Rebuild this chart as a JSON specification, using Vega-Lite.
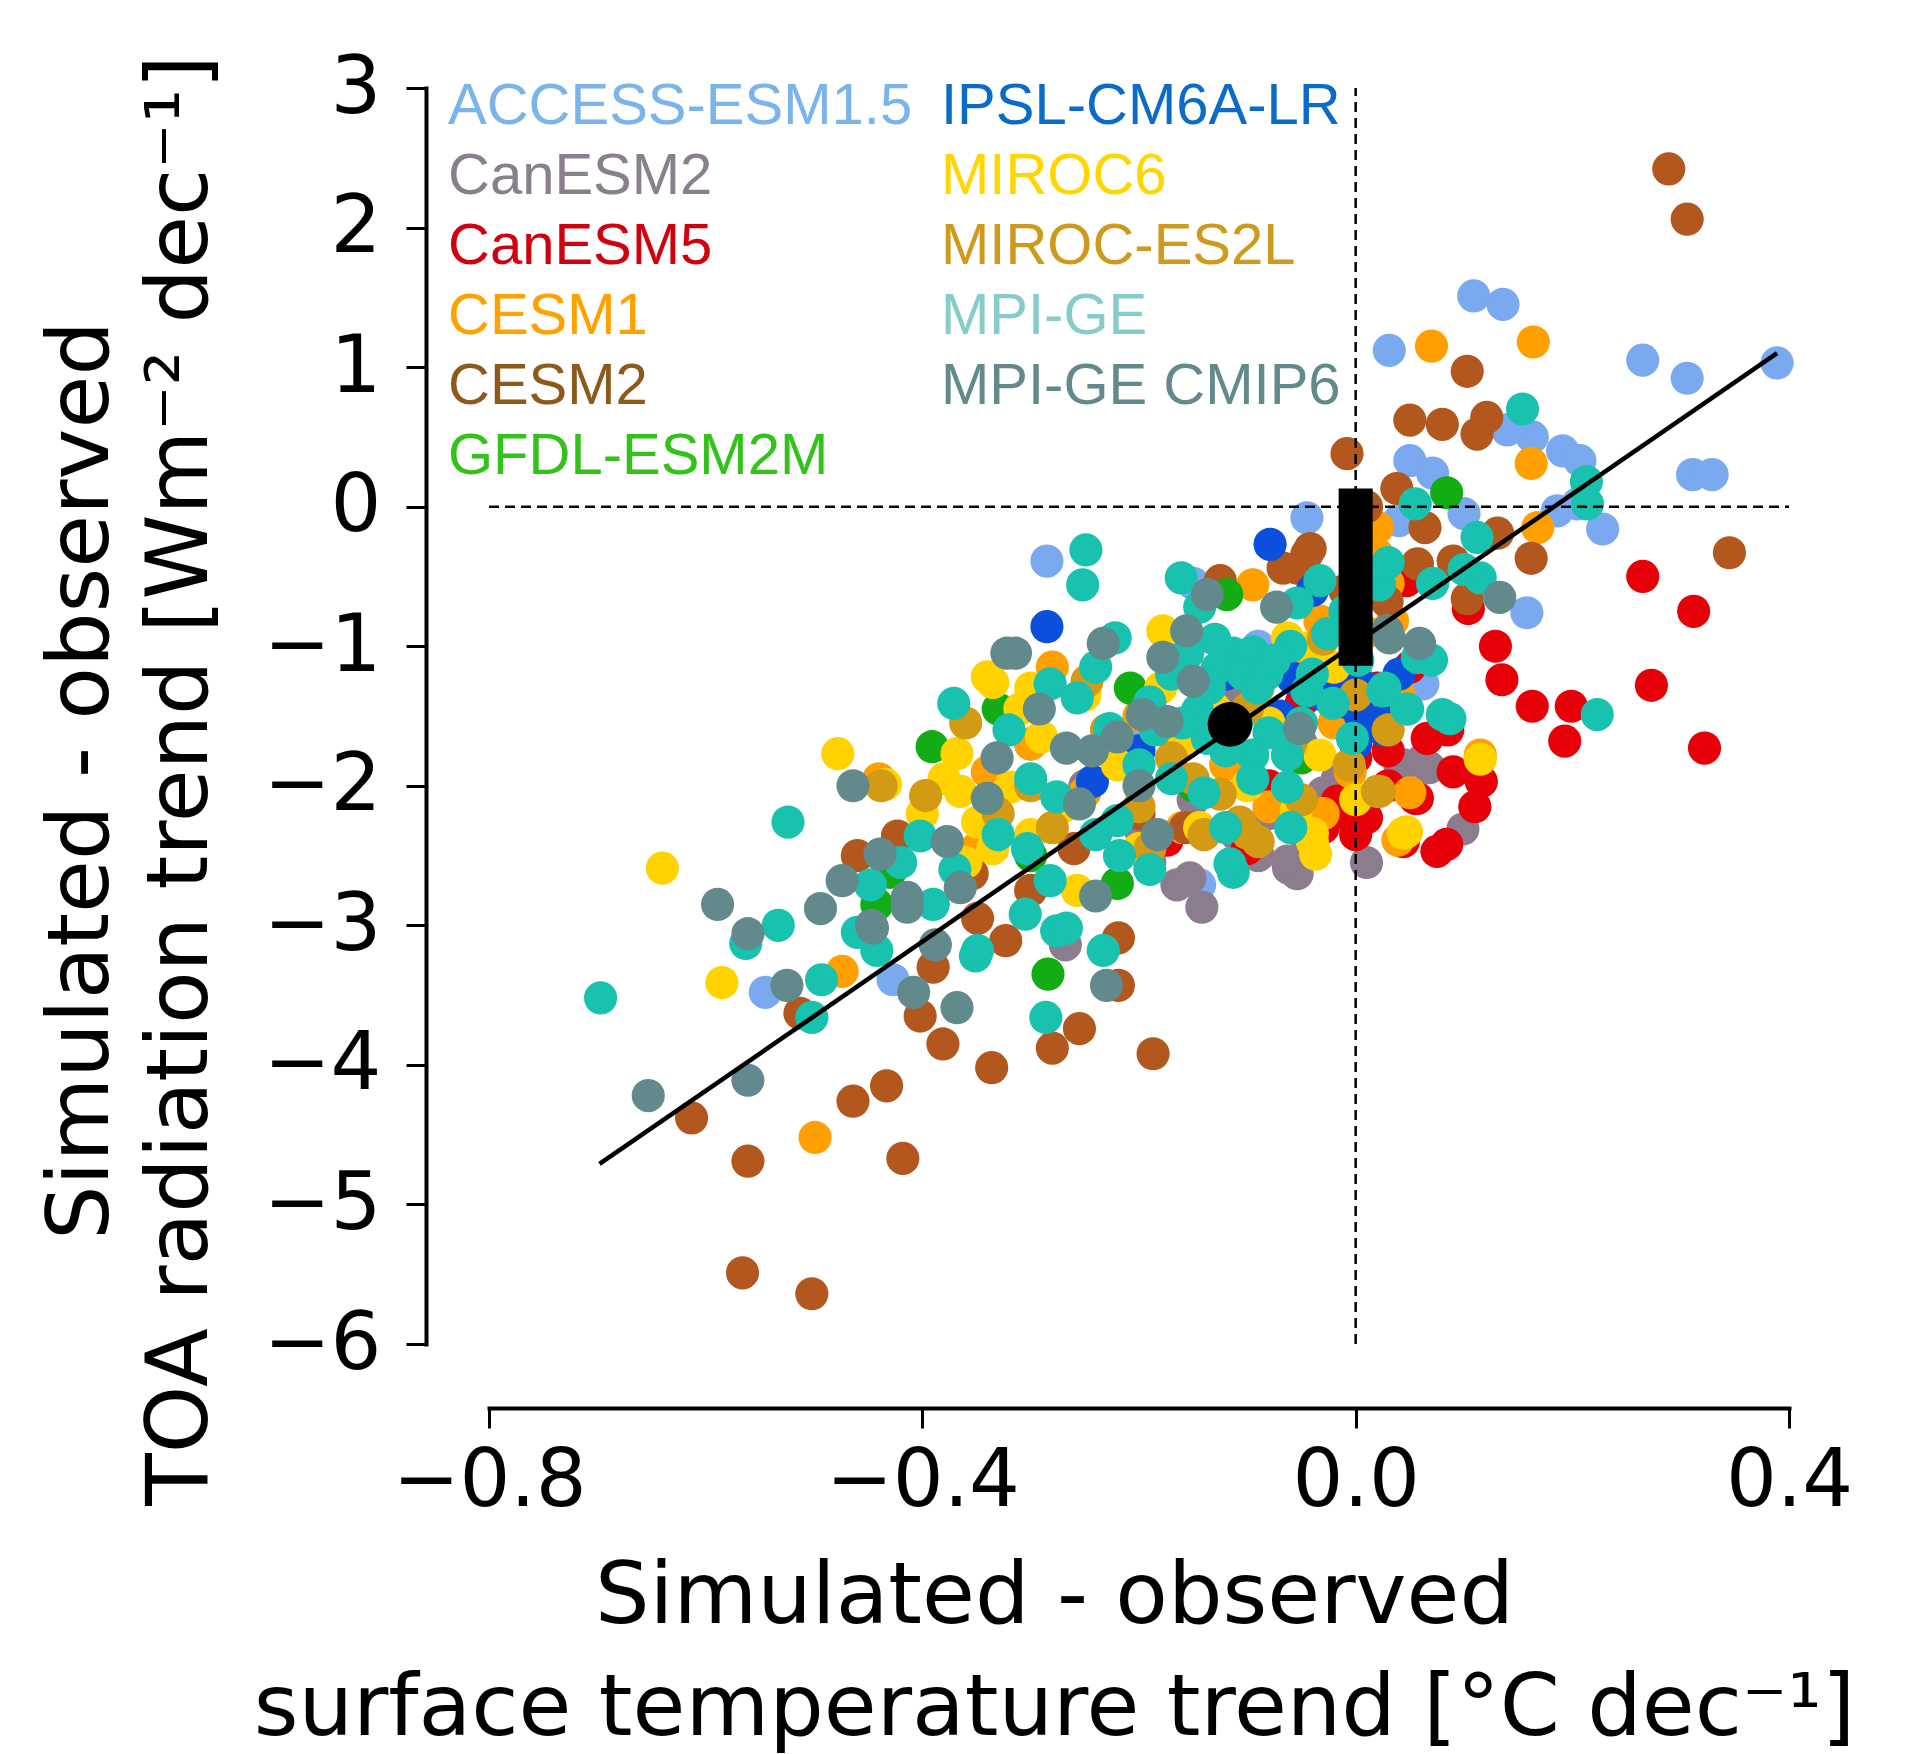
{
  "$schema": "https://vega.github.io/schema/vega-lite/v6.json",
  "width": 1300,
  "height": 1256,
  "autosize": {"type": "none"},
  "padding": {"left": 489, "top": 88, "right": 117, "bottom": 410},
  "background": "white",
  "config": {"view": {"stroke": null}, "font": "DejaVu Sans"},
  "datasets": {
    "runs": [
      {"model":"ACCESS-ESM1.5","x":0.031,"y":1.12},{"model":"ACCESS-ESM1.5","x":0.109,"y":1.51},{"model":"ACCESS-ESM1.5","x":0.136,"y":1.45},{"model":"ACCESS-ESM1.5","x":0.265,"y":1.05},{"model":"ACCESS-ESM1.5","x":0.306,"y":0.92},{"model":"ACCESS-ESM1.5","x":0.389,"y":1.03},{"model":"ACCESS-ESM1.5","x":0.311,"y":0.23},{"model":"ACCESS-ESM1.5","x":0.329,"y":0.23},{"model":"ACCESS-ESM1.5","x":0.05,"y":0.33},{"model":"ACCESS-ESM1.5","x":0.071,"y":0.24},{"model":"ACCESS-ESM1.5","x":0.163,"y":0.5},{"model":"ACCESS-ESM1.5","x":0.191,"y":0.4},{"model":"ACCESS-ESM1.5","x":0.207,"y":0.33},{"model":"ACCESS-ESM1.5","x":0.186,"y":-0.03},{"model":"ACCESS-ESM1.5","x":0.228,"y":-0.16},{"model":"ACCESS-ESM1.5","x":0.205,"y":0.02},{"model":"ACCESS-ESM1.5","x":-0.045,"y":-0.08},{"model":"ACCESS-ESM1.5","x":-0.285,"y":-0.39},{"model":"ACCESS-ESM1.5","x":0.062,"y":-1.27},{"model":"ACCESS-ESM1.5","x":0.158,"y":-0.76},{"model":"ACCESS-ESM1.5","x":-0.545,"y":-3.48},{"model":"ACCESS-ESM1.5","x":-0.427,"y":-3.39},{"model":"ACCESS-ESM1.5","x":0.04,"y":-0.1},{"model":"ACCESS-ESM1.5","x":-0.09,"y":-1.0},{"model":"ACCESS-ESM1.5","x":-0.15,"y":-0.55},{"model":"ACCESS-ESM1.5","x":-0.144,"y":-2.71},{"model":"ACCESS-ESM1.5","x":0.03,"y":-0.9},{"model":"ACCESS-ESM1.5","x":-0.2,"y":-1.6},{"model":"ACCESS-ESM1.5","x":0.14,"y":0.55},{"model":"ACCESS-ESM1.5","x":0.1,"y":-0.05},
      {"model":"CanESM2","x":-0.165,"y":-2.71},{"model":"CanESM2","x":-0.142,"y":-2.87},{"model":"CanESM2","x":-0.062,"y":-2.59},{"model":"CanESM2","x":-0.054,"y":-2.63},{"model":"CanESM2","x":-0.268,"y":-3.14},{"model":"CanESM2","x":0.041,"y":-1.87},{"model":"CanESM2","x":0.068,"y":-1.87},{"model":"CanESM2","x":0.044,"y":-1.85},{"model":"CanESM2","x":0.099,"y":-2.31},{"model":"CanESM2","x":-0.063,"y":-2.54},{"model":"CanESM2","x":-0.017,"y":-1.95},{"model":"CanESM2","x":-0.045,"y":-2.39},{"model":"CanESM2","x":0.061,"y":-1.82},{"model":"CanESM2","x":-0.03,"y":-2.05},{"model":"CanESM2","x":-0.08,"y":-2.2},{"model":"CanESM2","x":-0.11,"y":-2.35},{"model":"CanESM2","x":-0.2,"y":-2.3},{"model":"CanESM2","x":-0.25,"y":-2.0},{"model":"CanESM2","x":-0.1,"y":-1.9},{"model":"CanESM2","x":-0.3,"y":-1.7},{"model":"CanESM2","x":-0.15,"y":-2.1},{"model":"CanESM2","x":0.0,"y":-2.2},{"model":"CanESM2","x":-0.05,"y":-1.7},{"model":"CanESM2","x":0.02,"y":-1.5},{"model":"CanESM2","x":-0.12,"y":-1.3},{"model":"CanESM2","x":-0.19,"y":-2.55},{"model":"CanESM2","x":-0.153,"y":-2.66},{"model":"CanESM2","x":-0.09,"y":-2.5},{"model":"CanESM2","x":0.01,"y":-2.55},{"model":"CanESM2","x":-0.13,"y":-1.6},
      {"model":"CanESM5","x":0.265,"y":-0.5},{"model":"CanESM5","x":0.312,"y":-0.75},{"model":"CanESM5","x":0.273,"y":-1.28},{"model":"CanESM5","x":0.322,"y":-1.73},{"model":"CanESM5","x":0.129,"y":-1.0},{"model":"CanESM5","x":0.135,"y":-1.24},{"model":"CanESM5","x":0.163,"y":-1.43},{"model":"CanESM5","x":0.199,"y":-1.43},{"model":"CanESM5","x":0.193,"y":-1.68},{"model":"CanESM5","x":0.104,"y":-0.73},{"model":"CanESM5","x":0.066,"y":-1.66},{"model":"CanESM5","x":0.116,"y":-1.97},{"model":"CanESM5","x":0.055,"y":-2.09},{"model":"CanESM5","x":0.084,"y":-2.42},{"model":"CanESM5","x":0.044,"y":-2.4},{"model":"CanESM5","x":-0.012,"y":-2.16},{"model":"CanESM5","x":0.01,"y":-2.23},{"model":"CanESM5","x":0.057,"y":-2.09},{"model":"CanESM5","x":-0.017,"y":-2.11},{"model":"CanESM5","x":-0.003,"y":-2.23},{"model":"CanESM5","x":0.075,"y":-2.47},{"model":"CanESM5","x":0.047,"y":-0.53},{"model":"CanESM5","x":0.085,"y":-1.6},{"model":"CanESM5","x":0.03,"y":-2.0},{"model":"CanESM5","x":-0.03,"y":-2.3},{"model":"CanESM5","x":0.0,"y":-2.35},{"model":"CanESM5","x":0.03,"y":-1.75},{"model":"CanESM5","x":0.09,"y":-1.9},{"model":"CanESM5","x":-0.05,"y":-1.4},{"model":"CanESM5","x":0.0,"y":-1.8},{"model":"CanESM5","x":-0.08,"y":-2.0},{"model":"CanESM5","x":-0.174,"y":-2.39},{"model":"CanESM5","x":0.05,"y":-1.15},{"model":"CanESM5","x":0.02,"y":-1.3},{"model":"CanESM5","x":-0.1,"y":-2.45},{"model":"CanESM5","x":0.11,"y":-2.15},
      {"model":"CESM1","x":0.07,"y":1.15},{"model":"CESM1","x":0.164,"y":1.18},{"model":"CESM1","x":0.162,"y":0.31},{"model":"CESM1","x":0.168,"y":-0.15},{"model":"CESM1","x":0.02,"y":-0.15},{"model":"CESM1","x":0.02,"y":-0.34},{"model":"CESM1","x":-0.095,"y":-0.56},{"model":"CESM1","x":-0.033,"y":-0.82},{"model":"CESM1","x":-0.499,"y":-4.52},{"model":"CESM1","x":-0.474,"y":-3.33},{"model":"CESM1","x":-0.44,"y":-1.95},{"model":"CESM1","x":0.0,"y":-0.45},{"model":"CESM1","x":0.03,"y":-0.55},{"model":"CESM1","x":0.034,"y":-0.82},{"model":"CESM1","x":-0.06,"y":-1.1},{"model":"CESM1","x":-0.02,"y":-1.55},{"model":"CESM1","x":0.04,"y":-1.35},{"model":"CESM1","x":-0.12,"y":-1.85},{"model":"CESM1","x":-0.2,"y":-1.5},{"model":"CESM1","x":-0.25,"y":-2.05},{"model":"CESM1","x":-0.3,"y":-1.7},{"model":"CESM1","x":-0.34,"y":-1.9},{"model":"CESM1","x":-0.005,"y":-1.9},{"model":"CESM1","x":0.039,"y":-2.39},{"model":"CESM1","x":-0.08,"y":-2.15},{"model":"CESM1","x":0.05,"y":-2.05},{"model":"CESM1","x":0.01,"y":-0.9},{"model":"CESM1","x":-0.16,"y":-2.3},{"model":"CESM1","x":-0.35,"y":-2.45},{"model":"CESM1","x":-0.09,"y":-1.3},{"model":"CESM1","x":-0.28,"y":-1.15},{"model":"CESM1","x":0.0,"y":-1.2},{"model":"CESM1","x":-0.03,"y":-2.2},{"model":"CESM1","x":0.115,"y":-1.78},
      {"model":"CESM2","x":0.289,"y":2.42},{"model":"CESM2","x":0.306,"y":2.06},{"model":"CESM2","x":0.103,"y":0.97},{"model":"CESM2","x":0.08,"y":0.59},{"model":"CESM2","x":0.121,"y":0.64},{"model":"CESM2","x":0.112,"y":0.52},{"model":"CESM2","x":0.05,"y":0.62},{"model":"CESM2","x":0.038,"y":0.13},{"model":"CESM2","x":0.345,"y":-0.33},{"model":"CESM2","x":0.162,"y":-0.37},{"model":"CESM2","x":0.057,"y":-0.41},{"model":"CESM2","x":0.09,"y":-0.39},{"model":"CESM2","x":0.131,"y":-0.19},{"model":"CESM2","x":0.064,"y":-0.15},{"model":"CESM2","x":-0.042,"y":-0.3},{"model":"CESM2","x":0.029,"y":-0.68},{"model":"CESM2","x":0.103,"y":-0.66},{"model":"CESM2","x":-0.008,"y":0.38},{"model":"CESM2","x":-0.045,"y":-0.34},{"model":"CESM2","x":-0.054,"y":-0.44},{"model":"CESM2","x":-0.067,"y":-0.44},{"model":"CESM2","x":-0.125,"y":-0.53},{"model":"CESM2","x":-0.613,"y":-4.38},{"model":"CESM2","x":-0.561,"y":-4.69},{"model":"CESM2","x":-0.513,"y":-3.63},{"model":"CESM2","x":-0.464,"y":-4.26},{"model":"CESM2","x":-0.433,"y":-4.15},{"model":"CESM2","x":-0.418,"y":-4.67},{"model":"CESM2","x":-0.402,"y":-3.65},{"model":"CESM2","x":-0.381,"y":-3.85},{"model":"CESM2","x":-0.336,"y":-4.02},{"model":"CESM2","x":-0.323,"y":-3.11},{"model":"CESM2","x":-0.349,"y":-2.95},{"model":"CESM2","x":-0.566,"y":-5.49},{"model":"CESM2","x":-0.502,"y":-5.64},{"model":"CESM2","x":-0.28,"y":-3.88},{"model":"CESM2","x":-0.219,"y":-3.09},{"model":"CESM2","x":-0.219,"y":-3.43},{"model":"CESM2","x":-0.255,"y":-3.74},{"model":"CESM2","x":-0.187,"y":-3.92},{"model":"CESM2","x":-0.423,"y":-2.36},{"model":"CESM2","x":-0.354,"y":-2.63},{"model":"CESM2","x":-0.157,"y":-2.3},{"model":"CESM2","x":-0.3,"y":-2.75},{"model":"CESM2","x":-0.46,"y":-2.5},{"model":"CESM2","x":-0.2,"y":-2.2},{"model":"CESM2","x":-0.26,"y":-2.45},{"model":"CESM2","x":-0.01,"y":-0.6},{"model":"CESM2","x":0.01,"y":0.0},{"model":"CESM2","x":-0.39,"y":-3.3},
      {"model":"GFDL-ESM2M","x":0.084,"y":0.1},{"model":"GFDL-ESM2M","x":-0.119,"y":-0.63},{"model":"GFDL-ESM2M","x":-0.391,"y":-1.72},{"model":"GFDL-ESM2M","x":-0.208,"y":-1.3},{"model":"GFDL-ESM2M","x":-0.284,"y":-3.35},{"model":"GFDL-ESM2M","x":-0.442,"y":-2.85},{"model":"GFDL-ESM2M","x":-0.1,"y":-1.1},{"model":"GFDL-ESM2M","x":-0.15,"y":-2.0},{"model":"GFDL-ESM2M","x":-0.3,"y":-2.5},{"model":"GFDL-ESM2M","x":-0.05,"y":-1.8},{"model":"GFDL-ESM2M","x":-0.22,"y":-2.7},{"model":"GFDL-ESM2M","x":-0.43,"y":-2.62},{"model":"GFDL-ESM2M","x":-0.33,"y":-1.45},
      {"model":"IPSL-CM6A-LR","x":-0.079,"y":-0.27},{"model":"IPSL-CM6A-LR","x":-0.285,"y":-0.86},{"model":"IPSL-CM6A-LR","x":-0.058,"y":-1.23},{"model":"IPSL-CM6A-LR","x":0.004,"y":-1.49},{"model":"IPSL-CM6A-LR","x":0.025,"y":-1.6},{"model":"IPSL-CM6A-LR","x":-0.006,"y":-1.25},{"model":"IPSL-CM6A-LR","x":0.025,"y":-1.54},{"model":"IPSL-CM6A-LR","x":-0.243,"y":-1.97},{"model":"IPSL-CM6A-LR","x":-0.03,"y":-1.35},{"model":"IPSL-CM6A-LR","x":-0.01,"y":-1.4},{"model":"IPSL-CM6A-LR","x":0.01,"y":-1.3},{"model":"IPSL-CM6A-LR","x":-0.07,"y":-1.5},{"model":"IPSL-CM6A-LR","x":-0.2,"y":-1.75},{"model":"IPSL-CM6A-LR","x":-0.12,"y":-1.2},{"model":"IPSL-CM6A-LR","x":0.0,"y":-1.7},{"model":"IPSL-CM6A-LR","x":-0.04,"y":-0.6},{"model":"IPSL-CM6A-LR","x":0.04,"y":-1.2},
      {"model":"MIROC6","x":-0.64,"y":-2.59},{"model":"MIROC6","x":-0.585,"y":-3.41},{"model":"MIROC6","x":-0.478,"y":-1.77},{"model":"MIROC6","x":-0.368,"y":-1.77},{"model":"MIROC6","x":-0.335,"y":-1.26},{"model":"MIROC6","x":-0.365,"y":-2.04},{"model":"MIROC6","x":-0.349,"y":-2.26},{"model":"MIROC6","x":-0.335,"y":-2.45},{"model":"MIROC6","x":-0.178,"y":-0.89},{"model":"MIROC6","x":-0.063,"y":-0.94},{"model":"MIROC6","x":-0.042,"y":-1.01},{"model":"MIROC6","x":-0.033,"y":-1.78},{"model":"MIROC6","x":-0.144,"y":-2.3},{"model":"MIROC6","x":-0.04,"y":-2.4},{"model":"MIROC6","x":0.047,"y":-2.33},{"model":"MIROC6","x":0.115,"y":-1.81},{"model":"MIROC6","x":0.044,"y":-2.34},{"model":"MIROC6","x":-0.04,"y":-2.34},{"model":"MIROC6","x":-0.257,"y":-2.75},{"model":"MIROC6","x":-0.037,"y":-2.49},{"model":"MIROC6","x":-0.319,"y":-2.01},{"model":"MIROC6","x":-0.31,"y":-1.45},{"model":"MIROC6","x":-0.29,"y":-1.65},{"model":"MIROC6","x":-0.27,"y":-2.15},{"model":"MIROC6","x":-0.25,"y":-1.35},{"model":"MIROC6","x":-0.22,"y":-1.85},{"model":"MIROC6","x":-0.2,"y":-2.45},{"model":"MIROC6","x":-0.18,"y":-1.3},{"model":"MIROC6","x":-0.16,"y":-1.7},{"model":"MIROC6","x":-0.13,"y":-1.45},{"model":"MIROC6","x":-0.1,"y":-2.0},{"model":"MIROC6","x":-0.08,"y":-1.55},{"model":"MIROC6","x":-0.02,"y":-1.15},{"model":"MIROC6","x":0.0,"y":-2.1},{"model":"MIROC6","x":-0.3,"y":-2.35},{"model":"MIROC6","x":-0.38,"y":-1.95},{"model":"MIROC6","x":-0.36,"y":-2.55},{"model":"MIROC6","x":-0.4,"y":-2.2},{"model":"MIROC6","x":-0.434,"y":-1.99},{"model":"MIROC6","x":-0.34,"y":-1.22},{"model":"MIROC6","x":-0.3,"y":-1.3},{"model":"MIROC6","x":-0.055,"y":-2.18},
      {"model":"MIROC-ES2L","x":-0.438,"y":-2.0},{"model":"MIROC-ES2L","x":-0.397,"y":-2.07},{"model":"MIROC-ES2L","x":-0.248,"y":-1.25},{"model":"MIROC-ES2L","x":0.02,"y":-2.04},{"model":"MIROC-ES2L","x":-0.006,"y":-1.85},{"model":"MIROC-ES2L","x":-0.125,"y":-2.06},{"model":"MIROC-ES2L","x":-0.107,"y":-2.26},{"model":"MIROC-ES2L","x":0.022,"y":-2.04},{"model":"MIROC-ES2L","x":-0.14,"y":-2.35},{"model":"MIROC-ES2L","x":-0.15,"y":-1.95},{"model":"MIROC-ES2L","x":-0.2,"y":-2.15},{"model":"MIROC-ES2L","x":-0.17,"y":-1.8},{"model":"MIROC-ES2L","x":-0.28,"y":-2.3},{"model":"MIROC-ES2L","x":-0.3,"y":-2.0},{"model":"MIROC-ES2L","x":-0.06,"y":-1.7},{"model":"MIROC-ES2L","x":-0.09,"y":-2.4},{"model":"MIROC-ES2L","x":0.0,"y":-1.35},{"model":"MIROC-ES2L","x":-0.03,"y":-0.95},{"model":"MIROC-ES2L","x":-0.23,"y":-1.6},{"model":"MIROC-ES2L","x":-0.36,"y":-1.55},{"model":"MIROC-ES2L","x":-0.33,"y":-2.2},{"model":"MIROC-ES2L","x":-0.05,"y":-2.1},{"model":"MIROC-ES2L","x":0.03,"y":-1.6},{"model":"MIROC-ES2L","x":-0.1,"y":-1.45},{"model":"MIROC-ES2L","x":-0.19,"y":-2.45},{"model":"MIROC-ES2L","x":-0.12,"y":-1.7},{"model":"MIROC-ES2L","x":-0.1,"y":-2.34},
      {"model":"MPI-GE","x":-0.697,"y":-3.52},{"model":"MPI-GE","x":-0.533,"y":-3.0},{"model":"MPI-GE","x":-0.563,"y":-3.13},{"model":"MPI-GE","x":-0.493,"y":-3.39},{"model":"MPI-GE","x":-0.502,"y":-3.66},{"model":"MPI-GE","x":-0.351,"y":-3.22},{"model":"MPI-GE","x":-0.305,"y":-2.92},{"model":"MPI-GE","x":-0.286,"y":-3.66},{"model":"MPI-GE","x":-0.442,"y":-3.18},{"model":"MPI-GE","x":-0.276,"y":-3.04},{"model":"MPI-GE","x":-0.113,"y":-2.62},{"model":"MPI-GE","x":-0.282,"y":-2.68},{"model":"MPI-GE","x":-0.267,"y":-3.02},{"model":"MPI-GE","x":-0.233,"y":-3.18},{"model":"MPI-GE","x":-0.218,"y":-2.5},{"model":"MPI-GE","x":-0.249,"y":-0.31},{"model":"MPI-GE","x":-0.252,"y":-0.56},{"model":"MPI-GE","x":-0.161,"y":-0.51},{"model":"MPI-GE","x":-0.144,"y":-0.72},{"model":"MPI-GE","x":-0.054,"y":-0.69},{"model":"MPI-GE","x":-0.033,"y":-0.53},{"model":"MPI-GE","x":-0.222,"y":-0.94},{"model":"MPI-GE","x":-0.113,"y":-1.05},{"model":"MPI-GE","x":-0.095,"y":-1.04},{"model":"MPI-GE","x":-0.128,"y":-1.16},{"model":"MPI-GE","x":-0.104,"y":-1.2},{"model":"MPI-GE","x":-0.082,"y":-1.2},{"model":"MPI-GE","x":-0.091,"y":-1.3},{"model":"MPI-GE","x":-0.026,"y":-0.91},{"model":"MPI-GE","x":-0.045,"y":-1.32},{"model":"MPI-GE","x":-0.282,"y":-1.27},{"model":"MPI-GE","x":-0.257,"y":-1.37},{"model":"MPI-GE","x":-0.227,"y":-1.59},{"model":"MPI-GE","x":-0.146,"y":-1.46},{"model":"MPI-GE","x":-0.137,"y":-1.66},{"model":"MPI-GE","x":-0.095,"y":-1.78},{"model":"MPI-GE","x":-0.063,"y":-1.78},{"model":"MPI-GE","x":-0.003,"y":-1.66},{"model":"MPI-GE","x":-0.021,"y":-1.41},{"model":"MPI-GE","x":0.025,"y":-1.32},{"model":"MPI-GE","x":0.047,"y":-1.45},{"model":"MPI-GE","x":0.08,"y":-1.49},{"model":"MPI-GE","x":0.022,"y":-0.56},{"model":"MPI-GE","x":0.057,"y":-1.08},{"model":"MPI-GE","x":-0.063,"y":-2.01},{"model":"MPI-GE","x":-0.095,"y":-1.95},{"model":"MPI-GE","x":-0.116,"y":-2.56},{"model":"MPI-GE","x":-0.276,"y":-2.08},{"model":"MPI-GE","x":-0.303,"y":-2.45},{"model":"MPI-GE","x":0.154,"y":0.7},{"model":"MPI-GE","x":0.213,"y":0.18},{"model":"MPI-GE","x":0.214,"y":0.02},{"model":"MPI-GE","x":0.115,"y":-0.51},{"model":"MPI-GE","x":0.071,"y":-0.55},{"model":"MPI-GE","x":0.112,"y":-0.22},{"model":"MPI-GE","x":0.055,"y":0.02},{"model":"MPI-GE","x":0.07,"y":-1.1},{"model":"MPI-GE","x":0.027,"y":-1.3},{"model":"MPI-GE","x":0.048,"y":-1.45},{"model":"MPI-GE","x":0.087,"y":-1.52},{"model":"MPI-GE","x":0.223,"y":-1.49},{"model":"MPI-GE","x":-0.524,"y":-2.26},{"model":"MPI-GE","x":-0.371,"y":-1.41},{"model":"MPI-GE","x":-0.402,"y":-2.36},{"model":"MPI-GE","x":-0.448,"y":-2.71},{"model":"MPI-GE","x":-0.349,"y":-3.18},{"model":"MPI-GE","x":-0.17,"y":-1.2},{"model":"MPI-GE","x":-0.19,"y":-1.4},{"model":"MPI-GE","x":-0.16,"y":-1.55},{"model":"MPI-GE","x":-0.12,"y":-1.75},{"model":"MPI-GE","x":-0.08,"y":-1.62},{"model":"MPI-GE","x":-0.05,"y":-1.55},{"model":"MPI-GE","x":-0.2,"y":-1.85},{"model":"MPI-GE","x":-0.17,"y":-1.95},{"model":"MPI-GE","x":-0.14,"y":-2.05},{"model":"MPI-GE","x":-0.22,"y":-2.25},{"model":"MPI-GE","x":-0.24,"y":-2.35},{"model":"MPI-GE","x":-0.19,"y":-2.6},{"model":"MPI-GE","x":-0.33,"y":-2.35},{"model":"MPI-GE","x":-0.37,"y":-2.6},{"model":"MPI-GE","x":-0.42,"y":-2.55},{"model":"MPI-GE","x":-0.3,"y":-1.95},{"model":"MPI-GE","x":-0.32,"y":-1.6},{"model":"MPI-GE","x":-0.06,"y":-2.3},{"model":"MPI-GE","x":0.1,"y":-0.45},{"model":"MPI-GE","x":0.03,"y":-0.4},{"model":"MPI-GE","x":-0.01,"y":-0.75},{"model":"MPI-GE","x":-0.17,"y":-1.1},{"model":"MPI-GE","x":-0.24,"y":-1.15},{"model":"MPI-GE","x":-0.06,"y":-1.0},{"model":"MPI-GE","x":-0.13,"y":-0.95},{"model":"MPI-GE","x":0.002,"y":-1.1},{"model":"MPI-GE","x":-0.46,"y":-3.05},{"model":"MPI-GE","x":-0.39,"y":-2.85},{"model":"MPI-GE","x":-0.12,"y":-2.3},{"model":"MPI-GE","x":-0.135,"y":-1.3},{"model":"MPI-GE","x":-0.075,"y":-1.1},{"model":"MPI-GE","x":-0.11,"y":-1.55},{"model":"MPI-GE","x":-0.185,"y":-1.6},{"model":"MPI-GE","x":-0.04,"y":-1.2},{"model":"MPI-GE","x":-0.155,"y":-1.05},
      {"model":"MPI-GE CMIP6","x":-0.589,"y":-2.85},{"model":"MPI-GE CMIP6","x":-0.561,"y":-3.06},{"model":"MPI-GE CMIP6","x":-0.494,"y":-2.88},{"model":"MPI-GE CMIP6","x":-0.525,"y":-3.43},{"model":"MPI-GE CMIP6","x":-0.447,"y":-3.0},{"model":"MPI-GE CMIP6","x":-0.414,"y":-2.87},{"model":"MPI-GE CMIP6","x":-0.388,"y":-3.14},{"model":"MPI-GE CMIP6","x":-0.408,"y":-3.48},{"model":"MPI-GE CMIP6","x":-0.368,"y":-3.59},{"model":"MPI-GE CMIP6","x":-0.653,"y":-4.22},{"model":"MPI-GE CMIP6","x":-0.561,"y":-4.11},{"model":"MPI-GE CMIP6","x":-0.24,"y":-2.79},{"model":"MPI-GE CMIP6","x":-0.23,"y":-3.43},{"model":"MPI-GE CMIP6","x":-0.137,"y":-0.63},{"model":"MPI-GE CMIP6","x":-0.073,"y":-0.72},{"model":"MPI-GE CMIP6","x":-0.314,"y":-1.05},{"model":"MPI-GE CMIP6","x":-0.233,"y":-0.98},{"model":"MPI-GE CMIP6","x":-0.156,"y":-0.89},{"model":"MPI-GE CMIP6","x":-0.178,"y":-1.08},{"model":"MPI-GE CMIP6","x":-0.292,"y":-1.45},{"model":"MPI-GE CMIP6","x":-0.197,"y":-1.49},{"model":"MPI-GE CMIP6","x":-0.174,"y":-1.54},{"model":"MPI-GE CMIP6","x":-0.267,"y":-1.73},{"model":"MPI-GE CMIP6","x":-0.243,"y":-1.75},{"model":"MPI-GE CMIP6","x":-0.052,"y":-1.59},{"model":"MPI-GE CMIP6","x":0.029,"y":-0.89},{"model":"MPI-GE CMIP6","x":0.059,"y":-0.98},{"model":"MPI-GE CMIP6","x":0.031,"y":-0.94},{"model":"MPI-GE CMIP6","x":-0.183,"y":-2.35},{"model":"MPI-GE CMIP6","x":-0.255,"y":-2.13},{"model":"MPI-GE CMIP6","x":0.133,"y":-0.65},{"model":"MPI-GE CMIP6","x":-0.464,"y":-2.0},{"model":"MPI-GE CMIP6","x":-0.322,"y":-1.05},{"model":"MPI-GE CMIP6","x":-0.331,"y":-1.8},{"model":"MPI-GE CMIP6","x":-0.34,"y":-2.09},{"model":"MPI-GE CMIP6","x":-0.377,"y":-2.4},{"model":"MPI-GE CMIP6","x":-0.439,"y":-2.49},{"model":"MPI-GE CMIP6","x":-0.474,"y":-2.68},{"model":"MPI-GE CMIP6","x":-0.414,"y":-2.8},{"model":"MPI-GE CMIP6","x":-0.365,"y":-2.73},{"model":"MPI-GE CMIP6","x":-0.446,"y":-3.02},{"model":"MPI-GE CMIP6","x":-0.22,"y":-1.65},{"model":"MPI-GE CMIP6","x":-0.2,"y":-2.0},{"model":"MPI-GE CMIP6","x":-0.15,"y":-1.25}
    ],
    "zeroH": [{"x": -0.8, "x2": 0.4, "y": 0}],
    "zeroV": [{"x": 0, "y": -6, "y2": 3}],
    "fit": [{"x": -0.698, "y": -4.71}, {"x": 0.389, "y": 1.1}],
    "obs": [{"x": 0, "y": -1.14, "y2": 0.13}],
    "mean": [{"x": -0.116, "y": -1.56}]
  },
  "encoding": {
    "x": {
      "field": "x", "type": "quantitative",
      "scale": {"domain": [-0.8, 0.4], "nice": false, "zero": false},
      "axis": {
        "values": [-0.8, -0.4, 0, 0.4], "format": ".1f", "offset": 64,
        "grid": false, "domainColor": "black", "domainWidth": 4, "domainCap": "square",
        "tickColor": "black", "tickWidth": 3, "tickSize": 20,
        "labelFont": "DejaVu Sans", "labelFontSize": 80, "labelColor": "black", "labelPadding": 14,
        "labelFlush": false, "labelOverlap": false, "labelLimit": 1000,
        "title": ["Simulated - observed", "surface temperature trend [°C dec⁻¹]"],
        "titleFont": "DejaVu Sans", "titleFontSize": 86, "titleFontWeight": "normal", "titleColor": "black",
        "titleLineHeight": 112, "titleAlign": "center", "titleBaseline": "top", "titleX": 565, "titleY": 146, "titleLimit": 3000
      }
    },
    "y": {
      "field": "y", "type": "quantitative",
      "scale": {"domain": [-6, 3], "nice": false, "zero": false},
      "axis": {
        "values": [-6, -5, -4, -3, -2, -1, 0, 1, 2, 3], "format": "d", "offset": 63,
        "grid": false, "domainColor": "black", "domainWidth": 4, "domainCap": "square",
        "tickColor": "black", "tickWidth": 3, "tickSize": 20,
        "labelFont": "DejaVu Sans", "labelFontSize": 80, "labelColor": "black", "labelPadding": 25,
        "labelFlush": false, "labelOverlap": false, "labelLimit": 1000,
        "title": ["Simulated - observed", "TOA radiation trend [Wm⁻² dec⁻¹]"],
        "titleFont": "DejaVu Sans", "titleFontSize": 86, "titleFontWeight": "normal", "titleColor": "black",
        "titleLineHeight": 99, "titleAngle": -90, "titleAlign": "center", "titleBaseline": "top", "titleX": -387, "titleY": 692, "titleLimit": 3000
      }
    }
  },
  "layer": [
    {
      "data": {"name": "runs"},
      "mark": {"type": "point", "filled": true, "opacity": 1, "size": 1100, "strokeWidth": 0},
      "encoding": {
        "color": {
          "field": "model", "type": "nominal",
          "scale": {
            "domain": ["ACCESS-ESM1.5", "CanESM2", "CanESM5", "CESM1", "CESM2", "GFDL-ESM2M", "IPSL-CM6A-LR", "MIROC6", "MIROC-ES2L", "MPI-GE", "MPI-GE CMIP6"],
            "range": ["#7aa9f0", "#8c7d8e", "#e60008", "#ff9f00", "#b2571d", "#14ac14", "#0b4fdc", "#ffd200", "#d39a14", "#19c2ae", "#628a8c"]
          },
          "legend": {
            "title": null, "orient": "none", "legendX": -69, "legendY": -10,
            "columns": 2, "columnPadding": 0, "rowPadding": 12, "padding": 0,
            "symbolSize": 0, "symbolOpacity": 0, "symbolStrokeWidth": 0, "labelOffset": -30,
            "labelFont": "Liberation Sans", "labelFontSize": 58, "labelLimit": 2000,
            "labelColor": {"expr": "datum.value === 'ACCESS-ESM1.5' ? '#7ab4ea' : datum.value === 'CanESM2' ? '#8a7f8c' : datum.value === 'CanESM5' ? '#d0000f' : datum.value === 'CESM1' ? '#ffa200' : datum.value === 'CESM2' ? '#8e5a1c' : datum.value === 'GFDL-ESM2M' ? '#33c21a' : datum.value === 'IPSL-CM6A-LR' ? '#0a6cc8' : datum.value === 'MIROC6' ? '#ffd600' : datum.value === 'MIROC-ES2L' ? '#cf9a1c' : datum.value === 'MPI-GE' ? '#86cccb' : '#628a8c'"}
          }
        }
      }
    },
    {
      "data": {"name": "zeroH"},
      "mark": {"type": "rule", "color": "black", "strokeWidth": 2.5, "strokeDash": [10, 6]},
      "encoding": {"x2": {"field": "x2"}}
    },
    {
      "data": {"name": "zeroV"},
      "mark": {"type": "rule", "color": "black", "strokeWidth": 2.5, "strokeDash": [10, 6]},
      "encoding": {"y2": {"field": "y2"}}
    },
    {
      "data": {"name": "fit"},
      "mark": {"type": "line", "color": "black", "strokeWidth": 4.5},
      "encoding": {}
    },
    {
      "data": {"name": "obs"},
      "mark": {"type": "rule", "color": "black", "strokeWidth": 34, "strokeCap": "butt"},
      "encoding": {"y2": {"field": "y2"}}
    },
    {
      "data": {"name": "mean"},
      "mark": {"type": "point", "filled": true, "color": "black", "opacity": 1, "size": 2000, "strokeWidth": 0},
      "encoding": {}
    }
  ]
}
